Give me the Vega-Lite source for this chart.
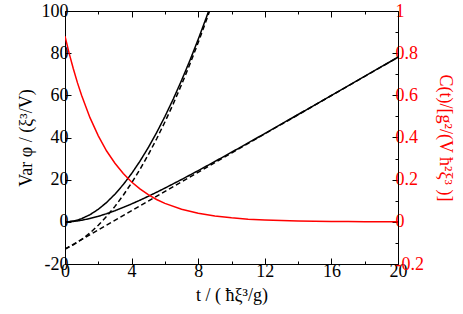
{
  "$schema": "https://vega.github.io/schema/vega-lite/v6.json",
  "width": 333,
  "height": 253,
  "autosize": "none",
  "padding": {"left": 65, "top": 11, "right": 65, "bottom": 50},
  "background": "white",
  "config": {
    "view": {"stroke": null},
    "axis": {
      "labelFont": "Liberation Serif",
      "titleFont": "Liberation Serif",
      "labelFontSize": 18,
      "titleFontSize": 18,
      "titleFontWeight": "normal",
      "labelColor": "black",
      "titleColor": "black",
      "domainColor": "black",
      "tickColor": "black",
      "domainWidth": 1,
      "tickWidth": 1,
      "grid": false,
      "labelFlush": false,
      "labelOverlap": false
    }
  },
  "datasets": {
    "black": [
      {"t": 0, "v": 0, "curve": "A", "style": "solid"},
      {"t": 0.25, "v": 0.1, "curve": "A", "style": "solid"},
      {"t": 0.5, "v": 0.39, "curve": "A", "style": "solid"},
      {"t": 0.75, "v": 0.86, "curve": "A", "style": "solid"},
      {"t": 1, "v": 1.52, "curve": "A", "style": "solid"},
      {"t": 1.5, "v": 3.38, "curve": "A", "style": "solid"},
      {"t": 2, "v": 5.95, "curve": "A", "style": "solid"},
      {"t": 2.5, "v": 9.2, "curve": "A", "style": "solid"},
      {"t": 3, "v": 13.12, "curve": "A", "style": "solid"},
      {"t": 3.5, "v": 17.69, "curve": "A", "style": "solid"},
      {"t": 4, "v": 22.9, "curve": "A", "style": "solid"},
      {"t": 4.5, "v": 28.74, "curve": "A", "style": "solid"},
      {"t": 5, "v": 35.2, "curve": "A", "style": "solid"},
      {"t": 5.5, "v": 42.27, "curve": "A", "style": "solid"},
      {"t": 6, "v": 49.94, "curve": "A", "style": "solid"},
      {"t": 6.5, "v": 58.21, "curve": "A", "style": "solid"},
      {"t": 7, "v": 67.07, "curve": "A", "style": "solid"},
      {"t": 7.5, "v": 76.52, "curve": "A", "style": "solid"},
      {"t": 8, "v": 86.55, "curve": "A", "style": "solid"},
      {"t": 8.5, "v": 97.15, "curve": "A", "style": "solid"},
      {"t": 9, "v": 108.33, "curve": "A", "style": "solid"},
      {"t": 0, "v": -12.9, "curve": "A2", "style": "dashed"},
      {"t": 0.5, "v": -10.9, "curve": "A2", "style": "dashed"},
      {"t": 1, "v": -8.36, "curve": "A2", "style": "dashed"},
      {"t": 1.5, "v": -5.27, "curve": "A2", "style": "dashed"},
      {"t": 2, "v": -1.62, "curve": "A2", "style": "dashed"},
      {"t": 2.5, "v": 2.58, "curve": "A2", "style": "dashed"},
      {"t": 3, "v": 7.32, "curve": "A2", "style": "dashed"},
      {"t": 3.5, "v": 12.62, "curve": "A2", "style": "dashed"},
      {"t": 4, "v": 18.46, "curve": "A2", "style": "dashed"},
      {"t": 4.5, "v": 24.86, "curve": "A2", "style": "dashed"},
      {"t": 5, "v": 31.8, "curve": "A2", "style": "dashed"},
      {"t": 5.5, "v": 39.3, "curve": "A2", "style": "dashed"},
      {"t": 6, "v": 47.34, "curve": "A2", "style": "dashed"},
      {"t": 6.5, "v": 55.94, "curve": "A2", "style": "dashed"},
      {"t": 7, "v": 65.08, "curve": "A2", "style": "dashed"},
      {"t": 7.5, "v": 74.78, "curve": "A2", "style": "dashed"},
      {"t": 8, "v": 85.02, "curve": "A2", "style": "dashed"},
      {"t": 8.5, "v": 95.82, "curve": "A2", "style": "dashed"},
      {"t": 9, "v": 107.16, "curve": "A2", "style": "dashed"},
      {"t": 0, "v": 0, "curve": "B", "style": "solid"},
      {"t": 0.25, "v": 0.05, "curve": "B", "style": "solid"},
      {"t": 0.5, "v": 0.2, "curve": "B", "style": "solid"},
      {"t": 0.75, "v": 0.45, "curve": "B", "style": "solid"},
      {"t": 1, "v": 0.75, "curve": "B", "style": "solid"},
      {"t": 1.5, "v": 1.57, "curve": "B", "style": "solid"},
      {"t": 2, "v": 2.62, "curve": "B", "style": "solid"},
      {"t": 2.5, "v": 3.87, "curve": "B", "style": "solid"},
      {"t": 3, "v": 5.28, "curve": "B", "style": "solid"},
      {"t": 3.5, "v": 6.84, "curve": "B", "style": "solid"},
      {"t": 4, "v": 8.5, "curve": "B", "style": "solid"},
      {"t": 4.5, "v": 10.26, "curve": "B", "style": "solid"},
      {"t": 5, "v": 12.1, "curve": "B", "style": "solid"},
      {"t": 5.5, "v": 14.02, "curve": "B", "style": "solid"},
      {"t": 6, "v": 15.99, "curve": "B", "style": "solid"},
      {"t": 7, "v": 20.08, "curve": "B", "style": "solid"},
      {"t": 8, "v": 24.29, "curve": "B", "style": "solid"},
      {"t": 9, "v": 28.61, "curve": "B", "style": "solid"},
      {"t": 10, "v": 33.0, "curve": "B", "style": "solid"},
      {"t": 11, "v": 37.43, "curve": "B", "style": "solid"},
      {"t": 12, "v": 41.9, "curve": "B", "style": "solid"},
      {"t": 13, "v": 46.39, "curve": "B", "style": "solid"},
      {"t": 14, "v": 50.9, "curve": "B", "style": "solid"},
      {"t": 15, "v": 55.42, "curve": "B", "style": "solid"},
      {"t": 16, "v": 59.95, "curve": "B", "style": "solid"},
      {"t": 17, "v": 64.48, "curve": "B", "style": "solid"},
      {"t": 18, "v": 69.02, "curve": "B", "style": "solid"},
      {"t": 19, "v": 73.56, "curve": "B", "style": "solid"},
      {"t": 20, "v": 78.1, "curve": "B", "style": "solid"},
      {"t": 0, "v": -12.9, "curve": "B2", "style": "dashed"},
      {"t": 5, "v": 9.85, "curve": "B2", "style": "dashed"},
      {"t": 10, "v": 32.6, "curve": "B2", "style": "dashed"},
      {"t": 15, "v": 55.35, "curve": "B2", "style": "dashed"},
      {"t": 20, "v": 78.1, "curve": "B2", "style": "dashed"}
    ],
    "red": [
      {"t": 0, "c": 0.88},
      {"t": 0.25, "c": 0.799},
      {"t": 0.5, "c": 0.726},
      {"t": 0.75, "c": 0.659},
      {"t": 1, "c": 0.599},
      {"t": 1.5, "c": 0.494},
      {"t": 2, "c": 0.408},
      {"t": 2.5, "c": 0.336},
      {"t": 3, "c": 0.278},
      {"t": 3.5, "c": 0.229},
      {"t": 4, "c": 0.189},
      {"t": 4.5, "c": 0.156},
      {"t": 5, "c": 0.129},
      {"t": 5.5, "c": 0.106},
      {"t": 6, "c": 0.0876},
      {"t": 7, "c": 0.0596},
      {"t": 8, "c": 0.0406},
      {"t": 9, "c": 0.0276},
      {"t": 10, "c": 0.0188},
      {"t": 11, "c": 0.0128},
      {"t": 12, "c": 0.0087},
      {"t": 13, "c": 0.0059},
      {"t": 14, "c": 0.004},
      {"t": 15, "c": 0.0027},
      {"t": 16, "c": 0.0019},
      {"t": 17, "c": 0.0013},
      {"t": 18, "c": 0.0009},
      {"t": 19, "c": 0.0006},
      {"t": 20, "c": 0.0004}
    ]
  },
  "layer": [
    {
      "layer": [
        {
          "data": {"name": "black"},
          "mark": {"type": "line", "clip": true, "strokeWidth": 1.5, "color": "black"},
          "encoding": {
            "x": {
              "field": "t", "type": "quantitative",
              "scale": {"domain": [0, 20], "nice": false, "zero": false},
              "axis": {
                "orient": "bottom",
                "title": "t / ( ħξ³/g)",
                "titlePadding": 3,
                "values": [0, 2, 4, 6, 8, 10, 12, 14, 16, 18, 20],
                "labelExpr": "datum.value % 4 === 0 ? '' + datum.value : ''",
                "tickSize": {"condition": {"test": "datum.value % 4 === 0", "value": -6}, "value": -3},
                "labelPadding": 4
              }
            },
            "y": {
              "field": "v", "type": "quantitative",
              "scale": {"domain": [-20, 100], "nice": false, "zero": false},
              "axis": {
                "orient": "left",
                "title": "Var φ / (ξ³/V)",
                "titlePadding": 6,
                "values": [-20, -10, 0, 10, 20, 30, 40, 50, 60, 70, 80, 90, 100],
                "labelExpr": "datum.value % 20 === 0 ? '' + datum.value : ''",
                "tickSize": {"condition": {"test": "datum.value % 20 === 0", "value": -6}, "value": -3},
                "labelPadding": 3
              }
            },
            "detail": {"field": "curve"},
            "strokeDash": {
              "field": "style", "type": "nominal",
              "scale": {"domain": ["solid", "dashed"], "range": [[1, 0], [5, 3]]},
              "legend": null
            }
          }
        },
        {
          "mark": {"type": "rule", "color": "black", "strokeWidth": 1},
          "encoding": {"y": {"datum": 0, "type": "quantitative"}}
        }
      ]
    },
    {
      "data": {"name": "red"},
      "mark": {"type": "line", "clip": true, "strokeWidth": 1.5, "color": "#ff0000"},
      "encoding": {
        "x": {
          "field": "t", "type": "quantitative",
          "scale": {"domain": [0, 20], "nice": false, "zero": false},
          "axis": {
            "orient": "top",
            "title": null,
            "labels": false,
            "values": [0, 2, 4, 6, 8, 10, 12, 14, 16, 18, 20],
            "tickSize": {"condition": {"test": "datum.value % 4 === 0", "value": -6}, "value": -3}
          }
        },
        "y": {
          "field": "c", "type": "quantitative",
          "scale": {"domain": [-0.2, 1], "nice": false, "zero": false},
          "axis": {
            "orient": "right",
            "title": "C(t)/[g²/(V ħ²ξ³ )]",
            "titleColor": "#ff0000",
            "labelColor": "#ff0000",
            "titlePadding": 12,
            "values": [-0.2, -0.1, 0, 0.1, 0.2, 0.3, 0.4, 0.5, 0.6, 0.7, 0.8, 0.9, 1],
            "labelExpr": "abs(round(datum.value * 10)) % 2 === 0 ? '' + (round(datum.value * 10) / 10) : ''",
            "tickSize": {"condition": {"test": "abs(round(datum.value * 10)) % 2 === 0", "value": -6}, "value": -3},
            "labelPadding": 3
          }
        }
      }
    }
  ],
  "resolve": {"scale": {"y": "independent"}, "axis": {"x": "independent", "y": "independent"}}
}
